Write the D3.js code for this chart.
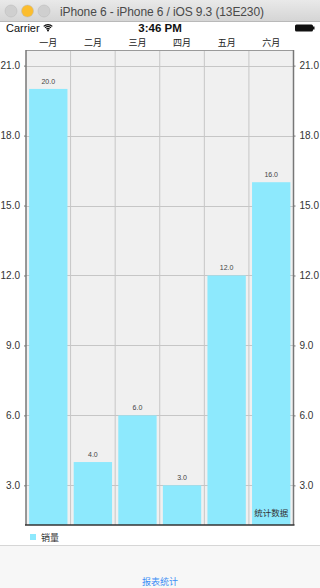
<!DOCTYPE html>
<html>
<head>
<meta charset="utf-8">
<script src="https://cdn.jsdelivr.net/npm/d3@7"></script>
<style>
  body { margin: 0; background: #fff; }
  svg { display: block; font-family: "Liberation Sans", "Noto Sans CJK SC", sans-serif; }
</style>
</head>
<body>
<div id="chart"></div>
<script>
const months = ["一月", "二月", "三月", "四月", "五月", "六月"];
const sales = [20.0, 4.0, 6.0, 3.0, 12.0, 16.0];
const yTicks = [3, 6, 9, 12, 15, 18, 21];
const legendLabel = "销量";
const chartNote = "统计数据";
const tabLabel = "报表统计";

var svg = d3.select("#chart")
    .append("svg")
    .attr("width", 320)
    .attr("height", 588);

// mac simulator window title
var bar = svg.append("defs").append("linearGradient")
    .attr("id", "titlebar").attr("x1", 0).attr("x2", 0).attr("y1", 0).attr("y2", 1);
bar.append("stop").attr("offset", "0%").attr("stop-color", "#e9e9e9");
bar.append("stop").attr("offset", "100%").attr("stop-color", "#d4d4d4");
svg.append("rect").attr("width", 320).attr("height", 22).attr("fill", "url(#titlebar)");
svg.append("line").attr("x1", 0).attr("x2", 320).attr("y1", 21.5).attr("y2", 21.5)
    .attr("stroke", "#b9b9b9");
var lights = ["#cfcfcf", "#fbbd2e", "#cfcfcf"];
for (var i = 0; i < lights.length; i++) {
    svg.append("circle")
        .attr("cx", 11 + i * 16.5).attr("cy", 11).attr("r", 6)
        .attr("fill", lights[i]).attr("stroke", "#b8b8b8").attr("stroke-width", 0.5);
}
svg.append("text").attr("x", 162).attr("y", 15.5).attr("text-anchor", "middle")
    .attr("font-size", "12px").attr("fill", "#4a4a4a")
    .attr("textLength", 204)
    .text("iPhone 6 - iPhone 6 / iOS 9.3 (13E230)");

// status bar
svg.append("text").attr("x", 6).attr("y", 32).attr("font-size", "11px").attr("fill", "#111")
    .text("Carrier");
var wifi = svg.append("g").attr("transform", "translate(48,32)");
[7, 5, 3].forEach(function (r) {
    wifi.append("path")
        .attr("d", d3.arc()({ innerRadius: r - 1.3, outerRadius: r, startAngle: -0.75, endAngle: 0.75 }))
        .attr("transform", "translate(0,-1)")
        .attr("fill", "#111");
});
wifi.append("circle").attr("cx", 0).attr("cy", -1.5).attr("r", 1).attr("fill", "#111");
svg.append("text").attr("x", 160).attr("y", 32).attr("text-anchor", "middle")
    .attr("font-size", "11.5px").attr("font-weight", "bold").attr("fill", "#111")
    .text("3:46 PM");
svg.append("rect").attr("x", 295).attr("y", 24.5).attr("width", 18).attr("height", 7)
    .attr("rx", 1.5).attr("fill", "#111");
svg.append("rect").attr("x", 313).attr("y", 26.5).attr("width", 1.5).attr("height", 3).attr("fill", "#111");

// chart
var plot = { left: 26, right: 293.5, top: 50, bottom: 525 };

var x = d3.scaleBand()
    .domain(months)
    .range([plot.left, plot.right])
    .padding(0);

var y = d3.scaleLinear()
    .domain([1.3, 21.67])
    .range([plot.bottom, plot.top]);

svg.append("rect")
    .attr("x", plot.left).attr("y", plot.top)
    .attr("width", plot.right - plot.left).attr("height", plot.bottom - plot.top)
    .attr("fill", "#f0f0f0");

// grid
svg.append("g").selectAll("line").data(yTicks).join("line")
    .attr("x1", plot.left).attr("x2", plot.right)
    .attr("y1", function (d) { return Math.round(y(d)) + 0.5; })
    .attr("y2", function (d) { return Math.round(y(d)) + 0.5; })
    .attr("stroke", "#c6c6c6").attr("stroke-width", 1);
svg.append("g").selectAll("line").data(months.slice(1)).join("line")
    .attr("x1", function (d) { return x(d); }).attr("x2", function (d) { return x(d); })
    .attr("y1", plot.top).attr("y2", plot.bottom)
    .attr("stroke", "#c6c6c6").attr("stroke-width", 1);

// bars
var inset = x.bandwidth() * 0.07;
svg.append("g").selectAll("rect").data(sales).join("rect")
    .attr("x", function (d, i) { return x(months[i]) + inset; })
    .attr("width", x.bandwidth() - 2 * inset)
    .attr("y", function (d) { return y(d); })
    .attr("height", function (d) { return plot.bottom - y(d); })
    .attr("fill", "#8de9fd");

svg.append("g").selectAll("text").data(sales).join("text")
    .attr("x", function (d, i) { return x(months[i]) + x.bandwidth() / 2; })
    .attr("y", function (d) { return y(d) - 5; })
    .attr("text-anchor", "middle")
    .attr("font-size", "7px")
    .attr("fill", "#444")
    .text(function (d) { return d.toFixed(1); });

// border and axes
svg.append("line").attr("x1", plot.left).attr("x2", plot.right)
    .attr("y1", plot.top + 0.5).attr("y2", plot.top + 0.5)
    .attr("stroke", "#9a9a9a").attr("stroke-width", 1);

var leftAxis = svg.append("g")
    .attr("transform", "translate(" + plot.left + ",0)")
    .call(d3.axisLeft(y).tickValues(yTicks).tickSize(2).tickPadding(4)
        .tickFormat(function (d) { return d.toFixed(1); }));
var rightAxis = svg.append("g")
    .attr("transform", "translate(" + plot.right + ",0)")
    .call(d3.axisRight(y).tickValues(yTicks).tickSize(2).tickPadding(4)
        .tickFormat(function (d) { return d.toFixed(1); }));
[leftAxis, rightAxis].forEach(function (ax) {
    ax.select(".domain").remove();
    ax.selectAll(".tick line").attr("stroke", "#777");
    ax.selectAll(".tick text").attr("font-size", "10px").attr("fill", "#333")
        .attr("font-family", "'Liberation Sans', sans-serif");
});
svg.append("line").attr("x1", plot.left).attr("x2", plot.left)
    .attr("y1", plot.top).attr("y2", plot.bottom)
    .attr("stroke", "#777").attr("stroke-width", 1.5);
svg.append("line").attr("x1", plot.right).attr("x2", plot.right)
    .attr("y1", plot.top).attr("y2", plot.bottom)
    .attr("stroke", "#777").attr("stroke-width", 1.5);
svg.append("line").attr("x1", plot.left - 1).attr("x2", plot.right + 1)
    .attr("y1", plot.bottom).attr("y2", plot.bottom)
    .attr("stroke", "#333").attr("stroke-width", 1.5);

var topAxis = svg.append("g")
    .attr("transform", "translate(0," + plot.top + ")")
    .call(d3.axisTop(x).tickSize(0).tickPadding(4));
topAxis.select(".domain").remove();
topAxis.selectAll(".tick text").attr("font-size", "9px").attr("fill", "#222")
    .attr("font-family", "'Noto Sans CJK SC', sans-serif");

// note in last bar
svg.append("text")
    .attr("x", x(months[5]) + x.bandwidth() / 2)
    .attr("y", plot.bottom - 9)
    .attr("text-anchor", "middle")
    .attr("font-size", "8.5px").attr("fill", "#333")
    .attr("font-family", "'Noto Sans CJK SC', sans-serif")
    .text(chartNote);

// legend
svg.append("rect").attr("x", 30).attr("y", 534).attr("width", 6).attr("height", 6).attr("fill", "#8de9fd");
svg.append("text").attr("x", 41).attr("y", 540.5)
    .attr("font-size", "9px").attr("fill", "#333")
    .attr("font-family", "'Noto Sans CJK SC', sans-serif")
    .text(legendLabel);

// tab bar
svg.append("rect").attr("x", 0).attr("y", 545).attr("width", 320).attr("height", 43).attr("fill", "#f7f7f7");
svg.append("line").attr("x1", 0).attr("x2", 320).attr("y1", 545.5).attr("y2", 545.5)
    .attr("stroke", "#d6d6d6");
svg.append("text").attr("x", 160).attr("y", 585)
    .attr("text-anchor", "middle")
    .attr("font-size", "9px").attr("fill", "#3b8ef5")
    .attr("font-family", "'Noto Sans CJK SC', sans-serif")
    .text(tabLabel);
</script>
</body>
</html>
